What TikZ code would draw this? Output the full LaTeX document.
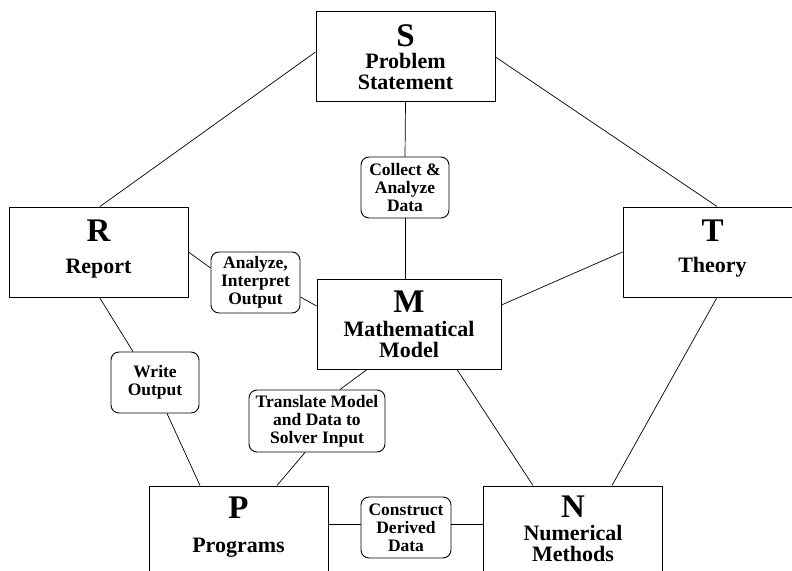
\documentclass[tikz,border=0pt]{standalone}
\usepackage{fontspec}
\setmainfont{Liberation Serif}
\begin{document}
\begin{tikzpicture}[x=1pt,y=-1pt,
  bigbox/.style={draw,line width=1pt,minimum width=179pt,minimum height=90pt,inner sep=0pt},
  tagbox/.style={draw,line width=0.9pt,rounded corners=8pt,align=center,inner sep=0pt,
    font=\fontsize{17.5}{18}\selectfont\bfseries},
  boxletter/.style={anchor=base,inner sep=0pt,font=\fontsize{33}{33}\selectfont\bfseries},
  boxname/.style={anchor=base,inner sep=0pt,align=center,font=\fontsize{22}{21}\selectfont\bfseries},
  link/.style={line width=0.7pt}]
\useasboundingbox (0,0) rectangle (792,570);
\clip (0,0) rectangle (792,570);

% main boxes
\node[bigbox] (S) at (405.5,56.5) {};
\node[bigbox] (R) at (98.5,252) {};
\node[bigbox] (T) at (712.5,252) {};
\node[bigbox,minimum width=184pt] (M) at (409,324) {};
\node[bigbox] (P) at (238.5,531) {};
\node[bigbox] (N) at (573,531) {};

% box texts (base anchor of two-line names = last line)
\node[boxletter] (Sl) at ([yshift=-35pt]S.north) {S};
\node[boxname] (Sn) at ([yshift=-78pt]S.north) {Problem\\Statement};
\node[boxletter] (Rl) at ([yshift=-35pt]R.north) {R};
\node[boxname] (Rn) at ([yshift=-67pt]R.north) {Report};
\node[boxletter] (Tl) at ([yshift=-35pt]T.north) {T};
\node[boxname] (Tn) at ([yshift=-66pt]T.north) {Theory};
\node[boxletter] (Ml) at ([yshift=-34pt]M.north) {M};
\node[boxname] (Mn) at ([yshift=-79pt]M.north) {Mathematical\\Model};
\node[boxletter] (Pl) at ([yshift=-33pt]P.north) {P};
\node[boxname] (Pn) at ([yshift=-67pt]P.north) {Programs};
\node[boxletter] (Nl) at ([yshift=-32pt]N.north) {N};
\node[boxname] (Nn) at ([yshift=-76pt]N.north) {Numerical\\Methods};

% tag boxes
\node[tagbox,minimum width=88pt,minimum height=61pt] (C) at (405,187.5) {Collect \&\\Analyze\\Data};
\node[tagbox,minimum width=89pt,minimum height=61pt] (A) at (255.5,282.5) {Analyze,\\Interpret\\Output};
\node[tagbox,minimum width=88pt,minimum height=61pt] (W) at (155,382.5) {Write\\Output};
\node[tagbox,minimum width=136pt,minimum height=62pt] (X) at (317,421) {Translate Model\\and Data to\\Solver Input};
\node[tagbox,minimum width=90pt,minimum height=61pt] (D) at (406,527.5) {Construct\\Derived\\Data};

% connectors
\draw[link] ([yshift=4.5pt]S.west) -- ([xshift=1.5pt]R.north);
\draw[link] ([yshift=-0.5pt]S.east) -- ([xshift=4.5pt]T.north);
\draw[link] (S.south) -- (C.north);
\draw[link] (C.south) -- (C.south |- M.north);
\draw[link] (R.east) -- ([yshift=14.5pt]A.west);
\draw[link] ([yshift=-14.5pt]A.east) -- ([yshift=18pt]M.west);
\draw[link] (T.west) -- ([yshift=19pt]M.east);
\draw[link] ([xshift=1pt]R.south) -- ([xshift=-22pt]W.north);
\draw[link] ([xshift=12pt]W.south) -- ([xshift=-38.5pt]P.north);
\draw[link] ([xshift=-42pt]M.south) -- ([xshift=23pt]X.north);
\draw[link] ([xshift=-12pt]X.south) -- ([xshift=38.5pt]P.north);
\draw[link] ([xshift=48pt]M.south) -- ([xshift=-40pt]N.north);
\draw[link] ([xshift=4.5pt]T.south) -- ([xshift=39pt]N.north);
\draw[link] ([yshift=7pt]P.east) -- ([yshift=3.5pt]D.west);
\draw[link] ([yshift=3.5pt]D.east) -- ([yshift=7pt]N.west);
\end{tikzpicture}
\end{document}
